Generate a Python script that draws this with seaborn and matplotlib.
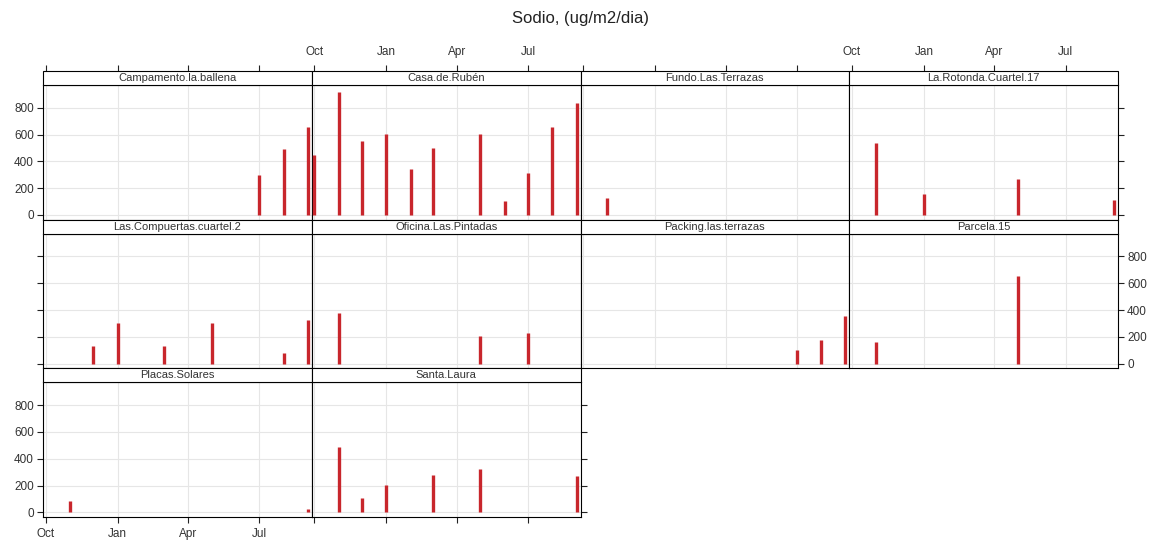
import numpy as np
import pandas as pd
import matplotlib
matplotlib.use("Agg")
import matplotlib.pyplot as plt
import matplotlib.dates as mdates
from matplotlib.patches import Rectangle
import seaborn as sns

# ---------------- data ----------------
sites = ["Campamento.la.ballena", "Casa.de.Rubén", "Fundo.Las.Terrazas",
         "La.Rotonda.Cuartel.17", "Las.Compuertas.cuartel.2", "Oficina.Las.Pintadas",
         "Packing.las.terrazas", "Parcela.15", "Placas.Solares", "Santa.Laura"]

campamento_dates = ["2021-07-01", "2021-08-01", "2021-09-01"]
campamento_vals = [300, 495, 655]

casa_dates = ["2020-10-01", "2020-11-01", "2020-12-01", "2021-01-01", "2021-02-01",
              "2021-03-01", "2021-05-01", "2021-06-01", "2021-07-01", "2021-08-01",
              "2021-09-01"]
casa_vals = [445, 918, 550, 602, 340, 503, 608, 106, 310, 653, 833]

fundo_dates = ["2020-11-01"]
fundo_vals = [130]

rotonda_dates = ["2020-11-01", "2021-01-01", "2021-05-01", "2021-09-01"]
rotonda_vals = [536, 158, 265, 113]

compuertas_dates = ["2020-12-01", "2021-01-01", "2021-03-01", "2021-05-01",
                    "2021-08-01", "2021-09-01"]
compuertas_vals = [130, 305, 130, 305, 80, 323]

oficina_dates = ["2020-11-01", "2021-05-01", "2021-07-01"]
oficina_vals = [380, 205, 230]

packing_dates = ["2021-07-01", "2021-08-01", "2021-09-01"]
packing_vals = [100, 180, 355]

parcela_dates = ["2020-11-01", "2021-05-01"]
parcela_vals = [160, 657]

placas_dates = ["2020-11-01", "2021-09-01"]
placas_vals = [82, 22]

santa_dates = ["2020-11-01", "2020-12-01", "2021-01-01", "2021-03-01",
               "2021-05-01", "2021-09-01"]
santa_vals = [490, 107, 204, 281, 325, 268]

x_tick_dates = ["2020-10-01", "2021-01-01", "2021-04-01", "2021-07-01"]
x_tick_labels = ["Oct", "Jan", "Apr", "Jul"]
y_ticks = [0, 200, 400, 600, 800]

site_data = [
    (sites[0], campamento_dates, campamento_vals),
    (sites[1], casa_dates, casa_vals),
    (sites[2], fundo_dates, fundo_vals),
    (sites[3], rotonda_dates, rotonda_vals),
    (sites[4], compuertas_dates, compuertas_vals),
    (sites[5], oficina_dates, oficina_vals),
    (sites[6], packing_dates, packing_vals),
    (sites[7], parcela_dates, parcela_vals),
    (sites[8], placas_dates, placas_vals),
    (sites[9], santa_dates, santa_vals),
]
rows = []
for name, ds, vs in site_data:
    for d, v in zip(ds, vs):
        rows.append({"site": name, "date": pd.Timestamp(d), "value": v})
df = pd.DataFrame(rows)
df["xnum"] = mdates.date2num(df["date"])

# ---------------- style ----------------
sns.set_style("white")
plt.rcParams["font.family"] = ["Liberation Sans", "DejaVu Sans"]

BAR = "#C8262C"
TXT = "#333333"
FS = 8.5

g = sns.FacetGrid(df, col="site", col_order=sites, col_wrap=4,
                  sharex=True, sharey=True, despine=False,
                  height=1.35, aspect=2.0)


def spikes(data, color=None, **kw):
    ax = plt.gca()
    ax.vlines(data["xnum"], 0, data["value"], color=BAR, linewidth=2.4,
              capstyle="butt", zorder=3)


g.map_dataframe(spikes)
fig = g.figure
fig.set_size_inches(11.5, 5.41)
fig.set_dpi(100)

top_px, bot_px = 85, 517
H = 541.0
strip_px = 14.0
ax_h = (bot_px - top_px - 2 * strip_px) / 3.0
strip_frac = strip_px / ax_h
fig.subplots_adjust(left=43 / 1150, right=1118 / 1150,
                    top=1 - top_px / H, bottom=1 - bot_px / H,
                    wspace=0, hspace=strip_px / ax_h)

origin = mdates.date2num(pd.Timestamp("2020-10-01"))
xt = mdates.date2num(pd.to_datetime(x_tick_dates))
g.set_titles("")
g.set_axis_labels("", "")

n = len(sites)
for i, name in enumerate(sites):
    ax = g.axes[i]
    r, c = divmod(i, 4)
    ax.set_xlim(origin - 3.45, origin + 340)
    ax.set_ylim(-35, 970)
    ax.set_xticks(xt)
    ax.set_xticklabels(x_tick_labels)
    ax.set_yticks(y_ticks)
    ax.set_yticklabels([str(v) for v in y_ticks])
    ax.grid(True, color="#E6E6E6", linewidth=0.8, zorder=0)
    ax.set_axisbelow(True)
    for sp in ax.spines.values():
        sp.set_color("black")
        sp.set_linewidth(0.8)
        sp.set_visible(True)

    last_in_row = (c == 3) or (i == n - 1)
    bottom_row = (r == 2)
    ax.tick_params(axis="y", which="major", direction="out", length=4.5, width=0.8,
                   color="#222222", labelsize=FS, labelcolor=TXT, pad=2,
                   left=(c == 0), labelleft=(c == 0 and r in (0, 2)),
                   right=last_in_row, labelright=(last_in_row and r == 1))
    ax.tick_params(axis="x", which="major", direction="out", length=4.5, width=0.8,
                   color="#222222", labelsize=FS, labelcolor=TXT, pad=3.5,
                   bottom=bottom_row, labelbottom=(bottom_row and c == 0),
                   top=False, labeltop=False)

    # strip
    ax.add_patch(Rectangle((0, 1), 1, strip_frac, transform=ax.transAxes,
                           facecolor="white", edgecolor="black", linewidth=0.8,
                           clip_on=False, zorder=5))
    ax.text(0.5, 1 + strip_frac / 2, name, transform=ax.transAxes,
            ha="center", va="center", fontsize=8, color=TXT, zorder=6)

    # top axis above the strip on first row
    if r == 0:
        sec = ax.secondary_xaxis(1 + strip_frac)
        sec.set_xticks(xt)
        sec.set_xticklabels(x_tick_labels if c in (1, 3) else ["", "", "", ""])
        sec.spines["top"].set_visible(False)
        sec.tick_params(axis="x", direction="out", length=4.5, width=0.8,
                        color="#222222", labelsize=FS, labelcolor=TXT, pad=5)

fig.suptitle("Sodio, (ug/m2/dia)", x=580 / 1150, y=1 - 18 / H, fontsize=12,
             color="#222222", va="center")

fig.savefig("out.png", dpi=100, facecolor="white")
